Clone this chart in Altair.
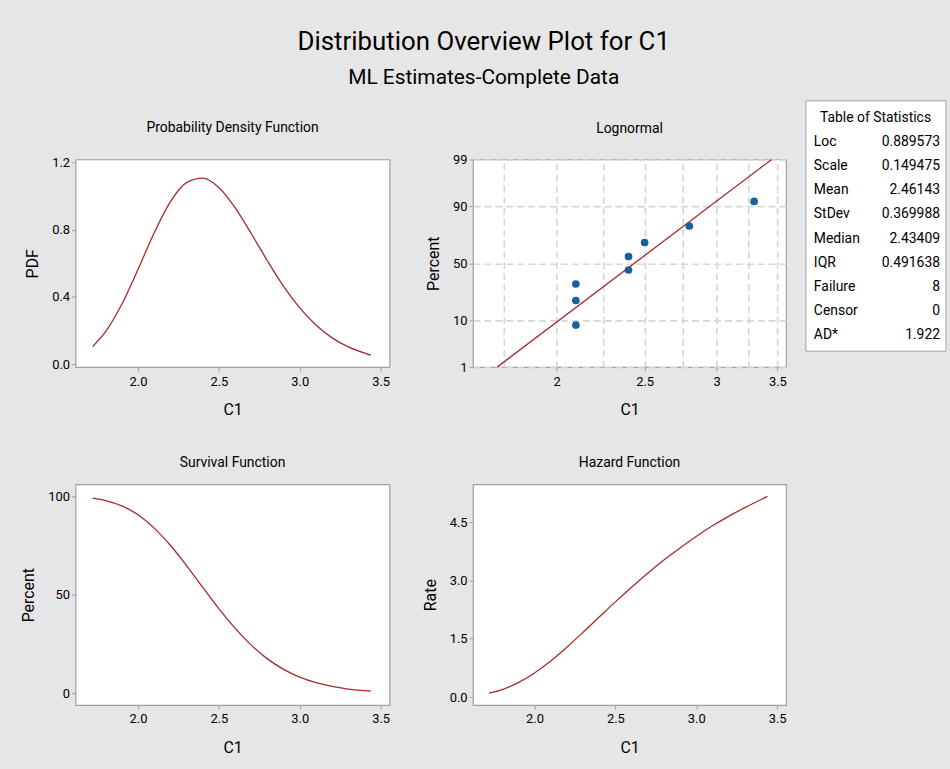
import altair as alt
import pandas as pd
from statistics import NormalDist

# ---- curves ----
x_curve = [1.72, 1.8, 1.9, 2.0, 2.1, 2.2, 2.3, 2.4, 2.5, 2.6, 2.7, 2.8, 2.9, 3.0, 3.1, 3.2, 3.3, 3.44]
pdf_vals = [0.105, 0.193, 0.356, 0.563, 0.780, 0.965, 1.080, 1.107, 1.051, 0.931, 0.777, 0.615,
            0.463, 0.335, 0.233, 0.156, 0.102, 0.053]
surv_vals = [99.0, 97.8, 95.1, 90.6, 83.8, 75.1, 64.8, 53.8, 42.9, 33.0, 24.4, 17.4, 12.1, 8.1,
             5.3, 3.4, 2.1, 1.0]
hazard_vals = [0.106, 0.197, 0.374, 0.622, 0.930, 1.286, 1.667, 2.060, 2.450, 2.825, 3.187, 3.526,
               3.836, 4.131, 4.405, 4.649, 4.871, 5.160]

# ---- probability plot ----
c1_values = [2.1, 2.1, 2.1, 2.4, 2.4, 2.5, 2.8, 3.3]
plot_percent = [8.3, 20.2, 32.1, 44.0, 56.0, 67.9, 79.8, 91.7]
fit_c1 = [1.72, 3.45]
fit_percent = [1, 99]
prob_ticks = [1, 10, 50, 90, 99]
log_grid = [1.75, 2, 2.25, 2.5, 2.75, 3, 3.25, 3.5]
log_labels = [2, 2.5, 3, 3.5]

# ---- table of statistics ----
stat_labels = ["Loc", "Scale", "Mean", "StDev", "Median", "IQR", "Failure", "Censor", "AD*"]
stat_values = ["0.889573", "0.149475", "2.46143", "0.369988", "2.43409", "0.491638", "8", "0", "1.922"]

FONT = "Roboto"
LINE = "#a52a2a"
BLUE = "#1c5f9e"
FRAME = "#a0a0a0"
GRIDC = "#d6d6d6"

curve_df = pd.DataFrame({"C1": x_curve, "PDF": pdf_vals, "Surv": surv_vals, "Rate": hazard_vals})
prob_df = pd.DataFrame({"C1": c1_values, "pct": plot_percent})
fit_df = pd.DataFrame({"C1": fit_c1, "pct": fit_percent})
stats_df = pd.DataFrame({"label": stat_labels, "value": stat_values,
                         "row": list(range(1, len(stat_labels) + 1))})
head_df = pd.DataFrame({"row": [0], "t": ["Table of Statistics"]})

W = 316
H1 = 209
H2 = 222

lin_x = alt.Scale(domain=[1.614, 3.555], nice=False, zero=False)


def x_axis():
    return alt.Axis(values=[2.0, 2.5, 3.0, 3.5], format=".1f", title="C1", grid=False)


def ptitle(text, off):
    return alt.TitleParams(text, offset=off, fontSize=14, font=FONT, fontWeight="normal", color="black")


pdf = alt.Chart(curve_df, width=W, height=H1,
                title=ptitle("Probability Density Function", 22)).mark_line(
    color=LINE, strokeWidth=1.3, interpolate="monotone").encode(
    x=alt.X("C1:Q", scale=lin_x, axis=x_axis()),
    y=alt.Y("PDF:Q", scale=alt.Scale(domain=[-0.018, 1.218], nice=False, zero=False),
            axis=alt.Axis(values=[0.0, 0.4, 0.8, 1.2], format=".1f", title="PDF", grid=False)),
)

surv = alt.Chart(curve_df, width=W, height=H2,
                 title=ptitle("Survival Function", 14)).mark_line(
    color=LINE, strokeWidth=1.3, interpolate="monotone").encode(
    x=alt.X("C1:Q", scale=lin_x, axis=x_axis()),
    y=alt.Y("Surv:Q", scale=alt.Scale(domain=[-6, 106], nice=False, zero=False),
            axis=alt.Axis(values=[0, 50, 100], format="d", title="Percent", grid=False)),
)

haz = alt.Chart(curve_df, width=315, height=H2,
                title=ptitle("Hazard Function", 14)).mark_line(
    color=LINE, strokeWidth=1.3, interpolate="monotone").encode(
    x=alt.X("C1:Q", scale=alt.Scale(domain=[1.62, 3.555], nice=False, zero=False), axis=x_axis()),
    y=alt.Y("Rate:Q", scale=alt.Scale(domain=[-0.2, 5.47], nice=False, zero=False),
            axis=alt.Axis(values=[0.0, 1.5, 3.0, 4.5], format=".1f", title="Rate", grid=False)),
)

nd = NormalDist()
z_ticks = [nd.inv_cdf(p / 100) for p in prob_ticks]
log_x = alt.Scale(type="log", domain=[1.618, 3.578], nice=False)
prob_y = alt.Scale(domain=[z_ticks[0], z_ticks[-1]], nice=False, zero=False)


def prob_axis():
    return alt.Axis(values=z_ticks, title="Percent", grid=True, gridDash=[7, 4],
                    gridColor=GRIDC, gridWidth=1.6,
                    labelExpr="format(cumulativeNormal(datum.value) * 100, '.0f')")


fit = alt.Chart(fit_df).transform_calculate(
    z="quantileNormal(datum.pct / 100)").mark_line(color=LINE, strokeWidth=1.3).encode(
    x=alt.X("C1:Q", scale=log_x,
            axis=alt.Axis(orient="top", values=log_grid, labels=False, ticks=False, domain=False,
                          grid=True, gridDash=[7, 4], gridColor=GRIDC, gridWidth=1.6, title=None)),
    y=alt.Y("z:Q", scale=prob_y, axis=prob_axis()),
)
pts = alt.Chart(prob_df).transform_calculate(
    z="quantileNormal(datum.pct / 100)").mark_circle(size=60, color=BLUE, opacity=1).encode(
    x=alt.X("C1:Q", scale=log_x,
            axis=alt.Axis(values=log_labels, format="~g", title="C1", grid=False)),
    y=alt.Y("z:Q", scale=prob_y, axis=prob_axis()),
)
logn = alt.layer(fit, pts, width=315, height=H1,
                 title=ptitle("Lognormal", 18)).resolve_axis(x="independent")

# table of statistics (cell starts 84px right of the lognormal panel; box drawn from -64)
tab_y = alt.Scale(domain=[0, 9], range=[-42, 177])
box = alt.Chart(head_df).mark_rect(fill="white", stroke=FRAME, strokeWidth=1).encode(
    x=alt.value(-64), x2=alt.value(77), y=alt.value(-59), y2=alt.value(193))
head = alt.Chart(head_df).mark_text(font=FONT, fontSize=14, color="black", baseline="middle",
                                    align="center").encode(
    x=alt.value(6), y=alt.Y("row:Q", scale=tab_y, axis=None), text="t:N")
labs = alt.Chart(stats_df).mark_text(font=FONT, fontSize=14, color="black", baseline="middle",
                                     align="left").encode(
    x=alt.value(-56), y=alt.Y("row:Q", scale=tab_y, axis=None), text="label:N")
vals = alt.Chart(stats_df).mark_text(font=FONT, fontSize=14, color="black", baseline="middle",
                                     align="right").encode(
    x=alt.value(71), y=alt.Y("row:Q", scale=tab_y, axis=None), text="value:N")
table = alt.layer(box, head, labs, vals, width=77, height=H1,
                  view=alt.ViewBackground(fill="transparent", stroke="transparent"))

chart = alt.concat(pdf, logn, table, surv, haz, columns=3, bounds="flush", align="each",
                   spacing={"row": 118, "column": 84}).properties(
    title=alt.TitleParams("Distribution Overview Plot for C1",
                          subtitle="ML Estimates-Complete Data",
                          anchor="middle", fontSize=26, subtitleFontSize=21,
                          font=FONT, subtitleFont=FONT, fontWeight="normal",
                          color="black", subtitleColor="black", offset=12, subtitlePadding=12),
    background="#e6e6e6",
    padding={"left": 20, "top": 26, "right": 2, "bottom": 12},
).configure_view(fill="white", stroke=FRAME, strokeWidth=1.2).configure_axis(
    labelFont=FONT, titleFont=FONT, labelFontSize=13, titleFontSize=16,
    labelColor="black", titleColor="black", titleFontWeight="normal",
    domain=False, tickColor=FRAME, tickSize=4, labelPadding=4, titlePadding=14,
).configure_axisY(titlePadding=11, labelPadding=2)

chart.save("out.html", embed_options={"renderer": "svg", "actions": False})
